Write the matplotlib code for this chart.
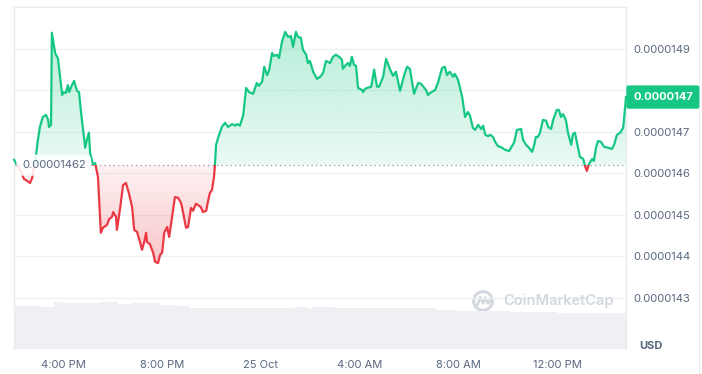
import numpy as np
import matplotlib.pyplot as plt
from matplotlib.patches import Rectangle, Circle
from matplotlib.lines import Line2D

plt.rcParams['font.family'] = ['Inter', 'DejaVu Sans']

# time in minutes after 24 Oct 14:00
minutes = [0, 7, 15, 24, 32, 39, 44, 49, 53, 58, 63, 70, 78, 83, 85, 90, 92, 100, 107, 117,
           119, 126, 131, 134, 139, 146, 153, 158, 163, 168, 173, 177, 182, 185, 192, 197, 199, 204, 211, 216,
           226, 231, 238, 241, 248, 250, 258, 265, 272, 279, 287, 292, 299, 306, 311, 316, 321, 323, 330, 338,
           343, 350, 355, 360, 365, 372, 377, 384, 391, 399, 406, 411, 418, 423, 430, 435, 442, 450, 454, 459,
           467, 471, 476, 481, 486, 488, 491, 496, 505, 513, 520, 530, 537, 542, 549, 557, 564, 571, 581, 586,
           590, 595, 603, 608, 615, 620, 627, 632, 639, 644, 651, 659, 666, 673, 678, 685, 690, 697, 702, 710,
           714, 719, 727, 736, 744, 751, 758, 768, 775, 782, 790, 797, 799, 807, 812, 816, 821, 826, 831, 836,
           846, 848, 853, 858, 868, 875, 882, 887, 897, 904, 914, 921, 928, 938, 948, 955, 962, 972, 982, 989,
           1001, 1006, 1011, 1023, 1030, 1040, 1047, 1052, 1059, 1067, 1071, 1079, 1089, 1096, 1103, 1108, 1115, 1120, 1128, 1135,
           1140, 1145, 1152, 1157, 1164, 1169, 1176, 1186, 1193, 1203, 1210, 1215, 1222, 1232, 1237, 1244, 1251, 1259, 1264, 1268,
           1273, 1278, 1285, 1293, 1298, 1305, 1310, 1319, 1324, 1329, 1334, 1341, 1346, 1354, 1358, 1363, 1368, 1375, 1383, 1388,
           1392, 1397, 1405, 1409, 1414, 1419, 1426, 1434, 1443, 1453, 1458, 1465, 1473, 1480, 1482, 1487]

# price in 1e-8 USD
price = [1463.3, 1462.1, 1460.9, 1458.7, 1458.2, 1457.7, 1458.9, 1461.3, 1464.0, 1468.1, 1471.2, 1473.6, 1474.1, 1472.9, 1471.2, 1471.7, 1493.9, 1489.0, 1487.6, 1478.9,
         1479.6, 1479.4, 1481.3, 1479.6, 1480.9, 1482.3, 1479.9, 1479.6, 1474.6, 1470.5, 1466.2, 1468.1, 1469.8, 1464.9, 1462.1, 1462.5, 1461.6, 1459.2, 1445.7, 1446.9,
         1447.6, 1449.0, 1449.5, 1450.7, 1449.5, 1446.4, 1451.7, 1457.2, 1457.7, 1455.3, 1451.9, 1446.4, 1445.9, 1443.5, 1441.6, 1443.3, 1445.7, 1443.5, 1443.0, 1440.9,
         1438.7, 1438.4, 1440.4, 1440.9, 1445.7, 1447.1, 1444.7, 1449.5, 1454.3, 1454.1, 1452.9, 1450.5, 1446.9, 1447.1, 1451.7, 1451.0, 1452.7, 1452.2, 1451.9, 1450.7,
         1451.0, 1453.1, 1455.3, 1456.0, 1459.2, 1461.8, 1466.9, 1468.6, 1471.2, 1472.2, 1471.2, 1471.9, 1471.5, 1471.9, 1471.5, 1474.1, 1480.6, 1479.6, 1479.2, 1480.6,
         1481.8, 1481.1, 1482.1, 1485.7, 1483.7, 1484.9, 1489.0, 1488.3, 1488.6, 1487.8, 1491.7, 1494.1, 1492.9, 1493.1, 1490.5, 1494.1, 1492.9, 1492.7, 1489.8, 1488.6,
         1486.6, 1487.1, 1484.5, 1482.8, 1483.3, 1484.2, 1487.1, 1486.6, 1488.1, 1488.6, 1488.1, 1487.4, 1485.2, 1486.2, 1486.6, 1485.9, 1488.1, 1486.2, 1485.9, 1480.6,
         1480.1, 1479.6, 1480.4, 1480.6, 1480.9, 1485.0, 1480.9, 1480.9, 1483.3, 1487.6, 1485.0, 1483.5, 1484.5, 1479.9, 1483.7, 1485.7, 1485.2, 1479.2, 1481.8, 1481.6,
         1480.1, 1478.9, 1479.4, 1480.1, 1481.8, 1485.4, 1485.7, 1483.7, 1484.5, 1483.3, 1484.0, 1482.5, 1478.4, 1473.6, 1474.8, 1473.9, 1471.0, 1470.5, 1471.7, 1470.7,
         1471.5, 1469.3, 1469.0, 1469.3, 1468.8, 1467.6, 1466.6, 1466.2, 1465.7, 1465.4, 1466.6, 1467.4, 1470.5, 1470.7, 1468.1, 1466.9, 1466.2, 1465.2, 1466.9, 1468.8,
         1468.8, 1469.8, 1472.9, 1472.7, 1471.2, 1470.7, 1472.9, 1475.3, 1475.3, 1473.6, 1474.3, 1472.9, 1469.8, 1466.9, 1469.5, 1469.8, 1467.4, 1464.0, 1463.5, 1461.6,
         1460.6, 1462.3, 1463.5, 1463.0, 1466.2, 1467.8, 1467.6, 1466.4, 1466.2, 1465.9, 1466.9, 1469.3, 1469.8, 1471.0, 1472.9, 1478.4]

open_price = 1462.0
open_label = '0.00001462'
last_label = '0.0000147'

# volume (relative), piecewise over time ranges in minutes
vol_start = [0, 68, 97, 117, 209, 253, 287, 355, 399, 428, 501, 683, 712, 724, 780, 1028, 1077, 1205, 1320]
vol_end = [68, 97, 117, 209, 253, 287, 355, 399, 428, 501, 683, 712, 724, 780, 1028, 1077, 1205, 1320, 1487]
volume = [43, 42, 47, 46, 47, 45, 46, 44, 43, 41.5, 41, 42, 41.5, 42, 41, 39.5, 38.5, 37.5, 36.5]

tick_minutes = [120, 360, 600, 840, 1080, 1320]
tick_labels = ['4:00 PM', '8:00 PM', '25 Oct', '4:00 AM', '8:00 AM', '12:00 PM']
price_ticks = [1430, 1440, 1450, 1460, 1470, 1480, 1490]
price_tick_labels = ['0.0000143', '0.0000144', '0.0000145', '0.0000146', '0.0000147', '', '0.0000149']

green = '#16c784'
red = '#ea3943'
grey_txt = '#58667e'
fs = 8.0
W, H = 702, 374

x = np.array(minutes)
p = np.array(price)
x0, x1 = 0, 1487
y0, y1 = 1417.7, 1500.1

fig = plt.figure(figsize=(W / 100, H / 100), dpi=100)
ax = fig.add_axes([14 / W, (H - 349) / H, 612 / W, 342 / H])
axv = ax.twinx()
ax.set_zorder(2)
ax.patch.set_visible(False)
axv.set_zorder(1)

# volume
axv.bar(vol_start, volume, width=np.array(vol_end) - np.array(vol_start), align='edge',
        color='#eef0f3', lw=0)
axv.set_ylim(0, 342)
axv.set_yticks([])
for s in axv.spines.values():
    s.set_visible(False)

# gradient fills
poly = ax.fill_between(x, p, open_price, color='none', lw=0)
clip = poly.get_paths()[0]

g = np.zeros((256, 1, 4))
g[..., 0], g[..., 1], g[..., 2] = 22 / 255, 199 / 255, 132 / 255
g[:, 0, 3] = np.linspace(0.32, 0.09, 256)
im = ax.imshow(g, extent=[x0, x1, open_price, 1496], aspect='auto', origin='upper',
               interpolation='bilinear', zorder=1)
im.set_clip_path(clip, ax.transData)

r = np.zeros((256, 1, 4))
r[..., 0], r[..., 1], r[..., 2] = 234 / 255, 57 / 255, 67 / 255
r[:, 0, 3] = np.linspace(0.07, 0.30, 256)
im2 = ax.imshow(r, extent=[x0, x1, 1437, open_price], aspect='auto', origin='upper',
                interpolation='bilinear', zorder=1)
im2.set_clip_path(clip, ax.transData)

# price line, green above open, red below
up, = ax.plot(x, p, color=green, lw=1.6, zorder=3, solid_joinstyle='round')
dn, = ax.plot(x, p, color=red, lw=1.6, zorder=3, solid_joinstyle='round')
r_up = Rectangle((x0 - 100, open_price), 3000, 200, transform=ax.transData)
r_dn = Rectangle((x0 - 100, open_price - 200), 3000, 200, transform=ax.transData)
up.set_clip_path(r_up)
dn.set_clip_path(r_dn)

ax.axhline(open_price, color='#8f96a3', lw=0.9, ls=(0, (1, 2.6)), zorder=2)

ax.set_xlim(x0, x1)
ax.set_ylim(y0, y1)

ax.set_yticks(price_ticks, price_tick_labels)
ax.yaxis.tick_right()
ax.grid(axis='y', color='#eff2f5', lw=1)
ax.set_axisbelow(True)
ax.tick_params(axis='y', length=0, pad=5, labelsize=fs, labelcolor=grey_txt)
ax.set_xticks(tick_minutes, tick_labels)
ax.tick_params(axis='x', length=0, pad=8, labelsize=fs, labelcolor=grey_txt)

for k in ['left', 'top', 'right']:
    ax.spines[k].set_color('#e8ebef')
    ax.spines[k].set_linewidth(1)
ax.spines['bottom'].set_visible(False)

# open price label
ax.text(8 / 612, open_price, open_label, transform=ax.get_yaxis_transform(),
        ha='left', va='center', fontsize=fs, color=grey_txt, zorder=6,
        bbox=dict(boxstyle='round,pad=0.5', fc='white', ec='none', alpha=0.88))

# last price badge
ax.text(1 + 7 / 612, p[-1], last_label, transform=ax.get_yaxis_transform(),
        ha='left', va='center', fontsize=fs, color='white', fontweight='bold',
        clip_on=False, zorder=6,
        bbox=dict(boxstyle='round,pad=0.6,rounding_size=0.2', fc=green, ec='none'))

fig.text(651 / W, 1 - 346 / H, 'USD', ha='center', va='center', fontsize=fs,
         fontweight='bold', color=grey_txt)

# watermark
fig.text(503 / W, 1 - 301 / H, 'CoinMarketCap', ha='left', va='center', fontsize=10.5,
         fontweight='semibold', color='#d3d7de')
lax = fig.add_axes([472 / W, 1 - 312 / H, 22 / W, 22 / H])
lax.set_xlim(-1, 1)
lax.set_ylim(-1, 1)
lax.axis('off')
lax.add_patch(Circle((0, 0), 0.85, fill=False, ec='#d3d7de', lw=2.2))
lax.plot([-0.5, -0.25, 0.0, 0.2, 0.45, 0.62], [-0.35, 0.35, -0.2, 0.3, -0.2, 0.05],
         color='#d3d7de', lw=2.0, solid_joinstyle='round')

fig.add_artist(Line2D([699 / W, 699 / W], [0, 1], color='#eceff2', lw=1))

fig.savefig('out.png', dpi=100)
